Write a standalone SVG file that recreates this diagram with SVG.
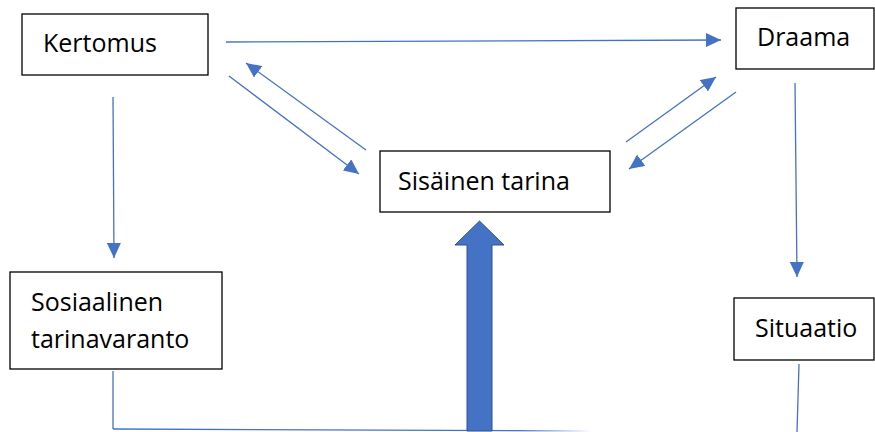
<svg xmlns="http://www.w3.org/2000/svg" width="875" height="432" viewBox="0 0 875 432">
<defs>
<style>
.box{fill:#fff;stroke:#000;stroke-width:1.3}
.lbl{font-family:"Open Sans","Liberation Sans",Arial,sans-serif;font-size:25px;fill:#000}
.ln{stroke:#4472C4;stroke-width:1.3;fill:none}
.arr{marker-end:url(#ah)}
</style>
<linearGradient id="fade" gradientUnits="userSpaceOnUse" x1="113" y1="0" x2="592" y2="0">
<stop offset="0.85" stop-color="#4472C4" stop-opacity="1"/>
<stop offset="1" stop-color="#4472C4" stop-opacity="0"/>
</linearGradient>
<marker id="ah" markerUnits="userSpaceOnUse" markerWidth="16" markerHeight="14" refX="15" refY="7" orient="auto">
<path d="M0,0 L15,7 L0,14 z" fill="#4472C4"/>
</marker>
</defs>
<rect width="875" height="432" fill="#fff"/>
<g id="connectors">
<line class="ln arr" x1="226" y1="42" x2="721" y2="40"/>
<line class="ln arr" x1="229" y1="76" x2="359" y2="174"/>
<line class="ln arr" x1="366" y1="150" x2="246" y2="63"/>
<line class="ln arr" x1="626" y1="142" x2="716" y2="77"/>
<line class="ln arr" x1="736" y1="92" x2="629" y2="169"/>
<line class="ln arr" x1="113" y1="97" x2="114" y2="258"/>
<line class="ln arr" x1="795" y1="83" x2="797" y2="277"/>
<line class="ln" x1="113" y1="371" x2="113" y2="429"/>
<path d="M113,429 L592,431" fill="none" stroke="url(#fade)" stroke-width="1.3"/>
<line class="ln" x1="799" y1="364" x2="797" y2="432"/>
<path d="M467,431 L467,245 L455,245 L479.5,221 L504,245 L492,245 L492,431 Z" fill="#4472C4" stroke="#2F528F" stroke-width="1"/>
</g>
<g id="kertomus">
<rect class="box" x="22" y="14" width="186" height="61"/>
<text class="lbl" x="43" y="52">Kertomus</text>
</g>
<g id="draama">
<rect class="box" x="736" y="8" width="138" height="61"/>
<text class="lbl" x="757" y="46">Draama</text>
</g>
<g id="sisainen">
<rect class="box" x="380" y="151" width="230" height="61"/>
<text class="lbl" x="398" y="190">Sisäinen tarina</text>
</g>
<g id="sosiaalinen">
<rect class="box" x="10" y="272" width="212" height="97"/>
<text class="lbl" x="31" y="311">Sosiaalinen</text>
<text class="lbl" x="31" y="348">tarinavaranto</text>
</g>
<g id="situaatio">
<rect class="box" x="734" y="298" width="140" height="62"/>
<text class="lbl" x="755" y="337">Situaatio</text>
</g>
</svg>
